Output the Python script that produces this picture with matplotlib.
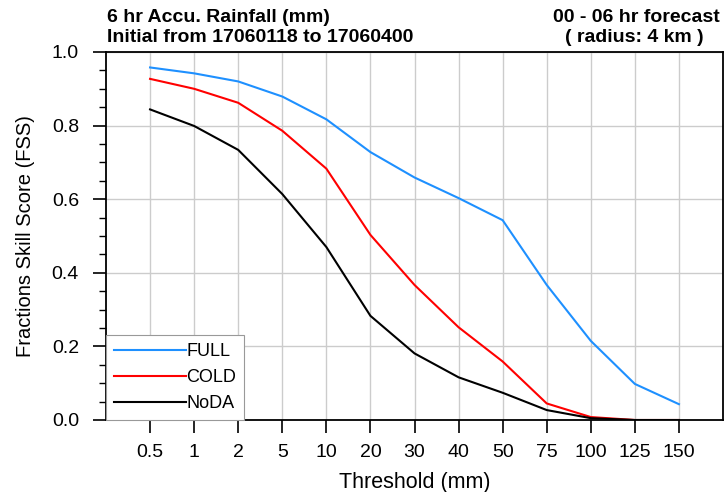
import matplotlib
matplotlib.use("Agg")
import matplotlib.pyplot as plt
import numpy as np

plt.rcParams['font.family'] = ['Liberation Sans', 'DejaVu Sans']

thresholds = ["0.5", "1", "2", "5", "10", "20", "30", "40", "50", "75", "100", "125", "150"]
full = [0.958, 0.942, 0.920, 0.879, 0.817, 0.728, 0.659, 0.603, 0.543, 0.367, 0.215, 0.098, 0.043]
cold = [0.927, 0.900, 0.862, 0.786, 0.683, 0.503, 0.367, 0.252, 0.159, 0.045, 0.008, 0.0, 0.0]
noda = [0.844, 0.799, 0.734, 0.614, 0.470, 0.283, 0.181, 0.116, 0.074, 0.027, 0.005, 0.0, 0.0]

fig = plt.figure(figsize=(7.26, 4.92), dpi=100)
ax = fig.add_axes([106/726, 72/492, 617/726, 368/492])

x = np.arange(len(thresholds))
ax.plot(x, full, color='#1e90ff', lw=1.5, label='FULL')
ax.plot(x, cold, color='#ff0000', lw=1.5, label='COLD')
ax.plot(x, noda, color='black', lw=1.5, label='NoDA')

ax.set_xlim(-1, len(thresholds))
ax.set_ylim(0, 1.0)
ax.set_xticks(x)
ax.set_xticklabels(thresholds)
ax.set_yticks(np.arange(0, 1.01, 0.2))
ax.set_yticklabels([f"{v:.1f}" for v in np.arange(0, 1.01, 0.2)])
ax.set_yticks(np.arange(0, 1.01, 0.05), minor=True)
ax.grid(True, which='major', color='#cccccc', lw=1.0)
ax.set_axisbelow(True)
ax.tick_params(axis='both', which='major', direction='out', length=9.5, width=1.2, labelsize=14)
ax.tick_params(axis='x', which='major', pad=8)
ax.tick_params(axis='y', which='major', pad=10)
ax.tick_params(axis='y', which='minor', direction='out', length=5, width=1.0)
for s in ax.spines.values():
    s.set_linewidth(1.3)

ax.set_xlabel('Threshold (mm)', fontsize=15.5, labelpad=8)
ax.set_ylabel('Fractions Skill Score (FSS)', fontsize=14.5, labelpad=12)

leg = ax.legend(loc='lower left', bbox_to_anchor=(0.0, 0.0), fontsize=13,
                frameon=True, fancybox=False, edgecolor='#999999', framealpha=1,
                handlelength=4.0, handletextpad=0.0, labelspacing=0.5,
                borderaxespad=0.0, borderpad=0.45)
leg.get_frame().set_linewidth(0.8)

fig.text(107/726, 1 - 17/492, '6 hr Accu. Rainfall (mm)', fontsize=14, fontweight='bold', va='center', ha='left')
fig.text(107/726, 1 - 37/492, 'Initial from 17060118 to 17060400', fontsize=14, fontweight='bold', va='center', ha='left')
fig.text(636/726, 1 - 17/492, '00 - 06 hr forecast', fontsize=14, fontweight='bold', va='center', ha='center')
fig.text(634/726, 1 - 37/492, '( radius: 4 km )', fontsize=14, fontweight='bold', va='center', ha='center')

fig.savefig('out.png', dpi=100)
